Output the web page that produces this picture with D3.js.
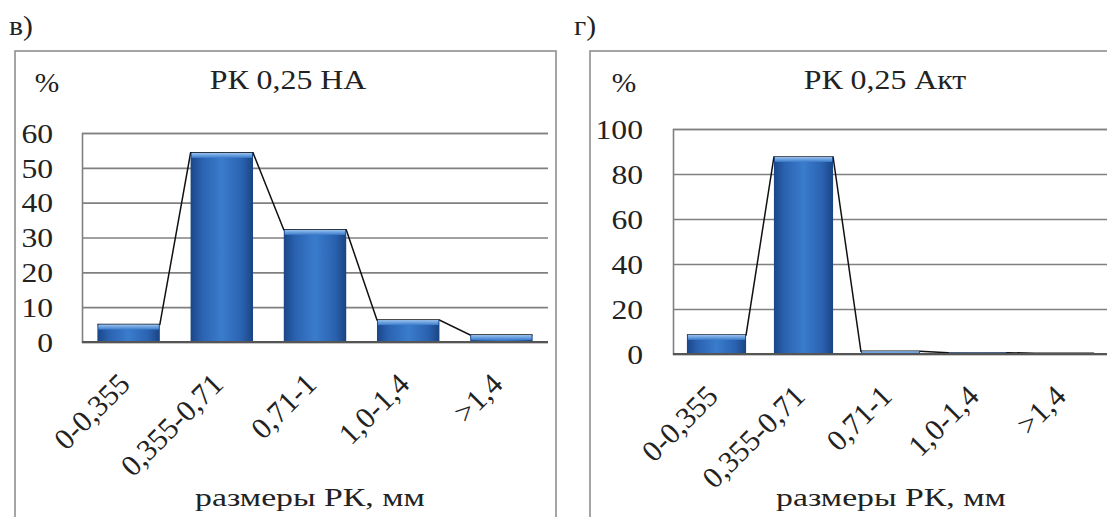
<!DOCTYPE html>
<html><head><meta charset="utf-8">
<script src="https://cdn.jsdelivr.net/npm/d3@7"></script>
<style>
body{margin:0;background:#fff;}
svg text{font-family:"Liberation Serif",Tinos,"Times New Roman",Times,serif;fill:#222;}
</style>
</head><body>
<svg id="c" width="1107" height="517"></svg>
<script>
// ---- data ----
const categories = ["0-0,355", "0,355-0,71", "0,71-1", "1,0-1,4", ">1,4"];
const valuesNA  = [5, 54.3, 32.2, 6.3, 2];
const valuesAkt = [8.5, 87.6, 1.2, 0.6, 0.3];
const ticksNA  = [0, 10, 20, 30, 40, 50, 60];
const ticksAkt = [0, 20, 40, 60, 80, 100];
const panelLetters = ["в)", "г)"];
const titles = ["РК 0,25 НА", "РК 0,25 Акт"];
const yUnit = "%";
const xTitle = "размеры РК, мм";

// ---- layout ----
const panels = [
  {values: valuesNA, ticks: ticksNA, letter: panelLetters[0], title: titles[0],
   box: [15, 51, 556, 520], plot: {x0: 82, x1: 548, y0: 133, y1: 342},
   letterX: 9, pctX: 47, titleX: 288, xTitleX: 310, tickRight: 53, pad: 0.33},
  {values: valuesAkt, ticks: ticksAkt, letter: panelLetters[1], title: titles[1],
   box: [590, 51, 1130, 520], plot: {x0: 673, x1: 1108, y0: 129, y1: 354},
   letterX: 574, pctX: 624, titleX: 885, xTitleX: 891, tickRight: 643, pad: 0.32}
];

const FONT = '"Liberation Serif", Tinos, "Times New Roman", Times, serif';
const svg = d3.select("#c");
const defs = svg.append("defs");
const bg = defs.append("linearGradient").attr("id", "barGrad").attr("x1", 0).attr("x2", 1).attr("y1", 0).attr("y2", 0);
[["0%", "#1b4688"], ["18%", "#2a62b0"], ["50%", "#3a7ccc"], ["82%", "#2a62b0"], ["100%", "#1a4482"]]
  .forEach(([o, c]) => bg.append("stop").attr("offset", o).attr("stop-color", c));
const cg = defs.append("linearGradient").attr("id", "capGrad").attr("x1", 0).attr("x2", 0).attr("y1", 0).attr("y2", 1);
[["0%", "#9cc3ef"], ["100%", "#3a7ccc"]]
  .forEach(([o, c]) => cg.append("stop").attr("offset", o).attr("stop-color", c));

function txt(g, x, y, s, size, anchor, sx, extra) {
  return g.append("text")
    .attr("transform", `translate(${x},${y}) scale(${sx},1)` + (extra || ""))
    .attr("text-anchor", anchor)
    .attr("font-family", FONT)
    .style("font-size", size + "px")
    .text(s);
}

panels.forEach(p => {
  const g = svg.append("g");
  const yMax = d3.max(p.ticks);
  const x = d3.scaleBand().domain(categories).range([p.plot.x0, p.plot.x1])
    .paddingInner(p.pad).paddingOuter(p.pad / 2);
  const y = d3.scaleLinear().domain([0, yMax]).range([p.plot.y1, p.plot.y0]);

  g.append("rect").attr("x", p.box[0]).attr("y", p.box[1])
    .attr("width", p.box[2] - p.box[0]).attr("height", p.box[3] - p.box[1])
    .attr("fill", "#fff").attr("stroke", "#8f8f8f").attr("stroke-width", 1.6);

  txt(g, p.letterX, 35, p.letter, 27, "start", 1.1);
  txt(g, p.pctX, 92, yUnit, 28, "middle", 1.05);
  txt(g, p.titleX, 89, p.title, 27, "middle", 1.18);

  const yAxis = d3.axisLeft(y).tickValues(p.ticks).tickSize(-(p.plot.x1 - p.plot.x0)).tickFormat("");
  const ag = g.append("g").attr("transform", `translate(${p.plot.x0},0)`).call(yAxis);
  ag.select(".domain").attr("stroke", "#808080").attr("stroke-width", 1.6);
  ag.selectAll(".tick line").attr("stroke", "#808080").attr("stroke-width", 1.6);

  p.ticks.forEach(t => {
    txt(g, p.tickRight, y(t), String(t), 28, "end", 1.13).attr("dy", "0.35em");
  });

  const pts = [];
  p.values.forEach((v, i) => {
    const c = categories[i];
    pts.push([x(c), y(v)]);
    pts.push([x(c) + x.bandwidth(), y(v)]);
  });
  g.append("path").attr("d", d3.line()(pts)).attr("fill", "none")
    .attr("stroke", "#111").attr("stroke-width", 1.5);

  const bars = g.append("g");
  p.values.forEach((v, i) => {
    const c = categories[i];
    const h = y(0) - y(v);
    bars.append("rect").attr("x", x(c)).attr("y", y(v))
      .attr("width", x.bandwidth()).attr("height", h).attr("fill", "url(#barGrad)");
    bars.append("rect").attr("x", x(c) + 1).attr("y", y(v))
      .attr("width", x.bandwidth() - 2).attr("height", Math.min(5, h)).attr("fill", "url(#capGrad)");
  });

  g.append("line").attr("x1", p.plot.x0).attr("x2", p.plot.x1)
    .attr("y1", y(0)).attr("y2", y(0)).attr("stroke", "#555").attr("stroke-width", 2);

  categories.forEach(c => {
    const cx = x(c) + x.bandwidth() / 2 + 3;
    g.append("text")
      .attr("transform", `translate(${cx},${y(0) + 44}) rotate(-45)`)
      .attr("text-anchor", "end").attr("font-family", FONT)
      .style("font-size", "30px").text(c);
  });

  txt(g, p.xTitleX, 506, xTitle, 25, "middle", 1.35);
});
</script>
</body></html>
